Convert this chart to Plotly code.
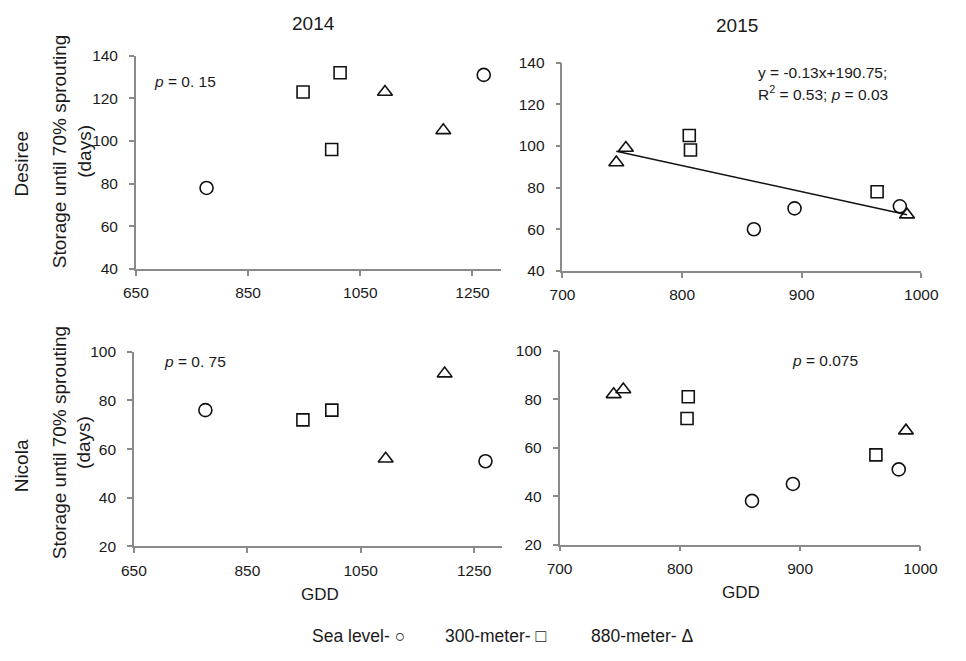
import numpy as np
import plotly.graph_objects as go

W, H = 966, 661        # browser window
OFF = 8                # default page body margin
FW, FH = W - 2 * OFF, H - 2 * OFF

# ---- data ----
# GDD by site, 2014
gdd14_sea = [776, 1270]
gdd14_300 = [948, 999, 1014]
gdd14_880 = [1094, 1198]
# GDD by site, 2015
gdd15_sea = [860, 894, 982]
gdd15_300 = [806, 807, 963]
gdd15_880 = [745, 753, 988]

# Desiree: storage until 70% sprouting (days)
des14_sea = [78, 131]
des14_300 = [123, 96, 132]
des14_880 = [123, 105]
des15_sea = [60, 70, 71]
des15_300 = [105, 98, 78]
des15_880 = [92, 99, 67]

# Nicola
nic14_sea = [76, 55]
nic14_300_x = [948, 999]
nic14_300 = [72, 76]
nic14_880 = [56, 91]
nic15_sea = [38, 45, 51]
nic15_300 = [72, 81, 57]
nic15_880 = [82, 84, 67]

col_titles = ["2014", "2015"]
row_titles = ["Desiree", "Nicola"]
ytitle = "Storage until 70% sprouting<br>(days)"
xtitle = "GDD"
legend_text = ["Sea level- \u25cb", "300-meter- \u25a1", "880-meter- \u0394"]

FONT = "Liberation Sans, Arial, sans-serif"
INK = "#1a1a1a"
AXC = "#8a8a8a"

fig = go.Figure()

def px_x(p):
    return (p - OFF) / FW

def px_y(p):
    return 1 - (p - OFF) / FH

def add_pts(x, y, sym, size, axis):
    fig.add_trace(go.Scatter(
        x=x, y=y, mode="markers",
        marker=dict(symbol=sym, size=size, color="#111111",
                    line=dict(color="#111111", width=1.6)),
        xaxis="x" + axis if axis != "1" else "x",
        yaxis="y" + axis if axis != "1" else "y",
        showlegend=False, hoverinfo="x+y"))

CS, SS, TS = 13, 12, 13
# Desiree 2014
add_pts(gdd14_sea, des14_sea, "circle-open", CS, "1")
add_pts(gdd14_300, des14_300, "square-open", SS, "1")
add_pts(gdd14_880, des14_880, "triangle-up-open", TS, "1")
# Desiree 2015 + linear fit
add_pts(gdd15_sea, des15_sea, "circle-open", CS, "2")
add_pts(gdd15_300, des15_300, "square-open", SS, "2")
add_pts(gdd15_880, des15_880, "triangle-up-open", TS, "2")
allx = np.array(gdd15_sea + gdd15_300 + gdd15_880, dtype=float)
ally = np.array(des15_sea + des15_300 + des15_880, dtype=float)
slope, icpt = np.polyfit(allx, ally, 1)
lx = np.array([allx.min(), allx.max()])
fig.add_trace(go.Scatter(x=lx, y=slope * lx + icpt, mode="lines",
                         line=dict(color="#111111", width=1.5),
                         xaxis="x2", yaxis="y2", showlegend=False, hoverinfo="skip"))
# Nicola 2014
add_pts(gdd14_sea, nic14_sea, "circle-open", CS, "3")
add_pts(nic14_300_x, nic14_300, "square-open", SS, "3")
add_pts(gdd14_880, nic14_880, "triangle-up-open", TS, "3")
# Nicola 2015
add_pts(gdd15_sea, nic15_sea, "circle-open", CS, "4")
add_pts(gdd15_300, nic15_300, "square-open", SS, "4")
add_pts(gdd15_880, nic15_880, "triangle-up-open", TS, "4")

TICK = 15.5

def xax(dom, rng, tick0, dtick, anchor):
    return dict(domain=dom, range=rng, tick0=tick0, dtick=dtick, anchor=anchor,
                showgrid=False, zeroline=False, showline=True, linecolor=AXC,
                linewidth=1.5, ticks="outside", ticklen=5, tickcolor=AXC, tickwidth=1.5,
                tickfont=dict(family=FONT, size=TICK, color=INK), ticklabelstandoff=4,
                ticklabeloverflow="allow")

def yax(dom, rng, dtick, anchor):
    return dict(domain=dom, range=rng, dtick=dtick, tick0=0, anchor=anchor,
                showgrid=False, zeroline=False, showline=True, linecolor=AXC,
                linewidth=1.5, ticks="outside", ticklen=5, tickcolor=AXC, tickwidth=1.5,
                tickfont=dict(family=FONT, size=TICK, color=INK), ticklabelstandoff=8)

fig.update_layout(
    width=FW, height=FH, margin=dict(l=0, r=0, t=0, b=0),
    paper_bgcolor="white", plot_bgcolor="white",
    font=dict(family=FONT, color=INK),
    xaxis=xax([px_x(135), px_x(512)], [650, 1300], 650, 200, "y"),
    yaxis=yax([px_y(275), px_y(56)], [40, 140], 20, "x"),
    xaxis2=xax([px_x(576), px_x(947)], [700, 1000], 700, 100, "y2"),
    yaxis2=yax([px_y(277), px_y(63)], [40, 140], 20, "x2"),
    xaxis3=xax([px_x(133), px_x(514)], [650, 1300], 650, 200, "y3"),
    yaxis3=yax([px_y(560), px_y(360)], [20, 100], 20, "x3"),
    xaxis4=xax([px_x(573), px_x(946)], [700, 1000], 700, 100, "y4"),
    yaxis4=yax([px_y(558), px_y(359)], [20, 100], 20, "x4"),
)

ann = []
def text(t, x, y, size, xa="center", ya="middle", angle=0):
    ann.append(dict(text=t, x=px_x(x), y=px_y(y), xref="paper", yref="paper",
                    xanchor=xa, yanchor=ya, showarrow=False, textangle=angle,
                    font=dict(family=FONT, size=size, color=INK)))

text(col_titles[0], 319, 23, 19)
text(col_titles[1], 756, 25, 19)
text(row_titles[0], 17, 167, 19, angle=-90)
text(row_titles[1], 17, 477, 19, angle=-90)
text(ytitle, 69, 155, 19, angle=-90)
text(ytitle, 69, 454, 19, angle=-90)
text(xtitle, 325, 609, 17)
text(xtitle, 761, 607, 17)
text("<i>p</i> = 0. 15", 152, 82, 15.5, xa="left")
text("<i>p</i> = 0. 75", 162, 370, 15.5, xa="left")
text("y = -0.13x+190.75;", 776, 73, 15.5, xa="left")
text("R<sup>2</sup> = 0.53; <i>p</i> = 0.03", 776, 94, 15.5, xa="left")
text("<i>p</i> = 0.075", 811, 369, 15.5, xa="left")
text(legend_text[0], 315, 652, 17.5, xa="left")
text(legend_text[1], 453, 652, 17.5, xa="left")
text(legend_text[2], 603, 652, 17.5, xa="left")

fig.update_layout(annotations=ann)
fig.write_html("out.html")
